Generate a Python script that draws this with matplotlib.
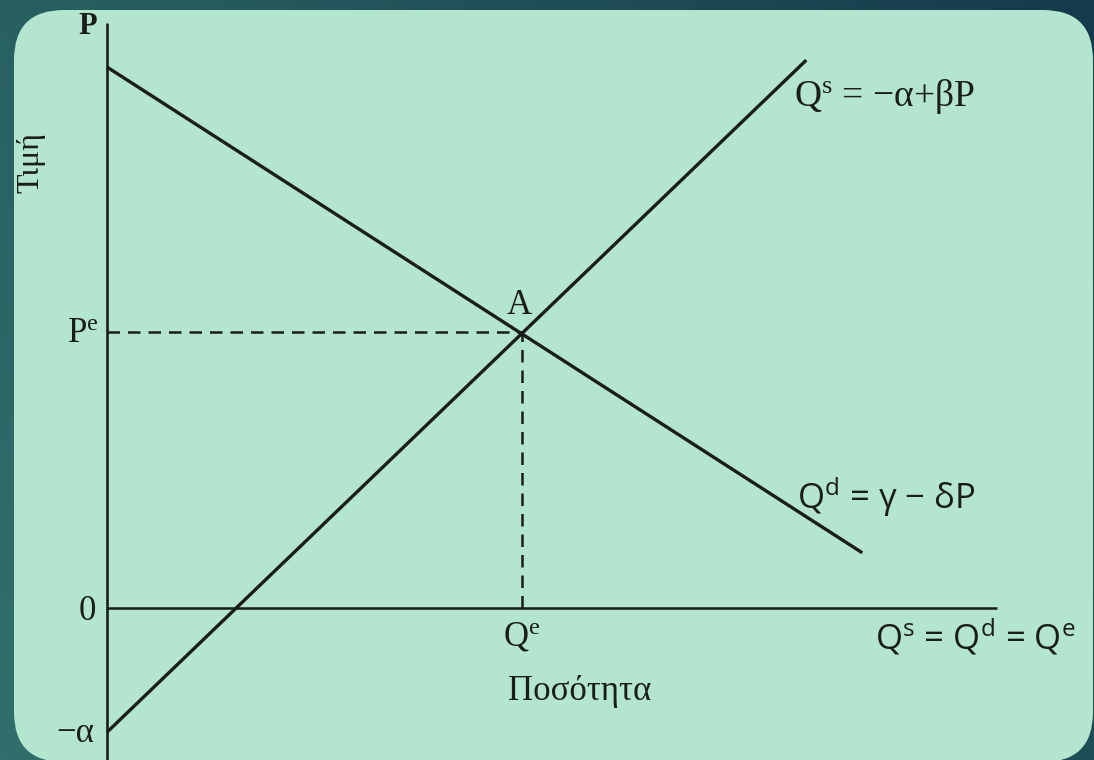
import numpy as np
import matplotlib
matplotlib.use('Agg')
from matplotlib import pyplot as plt
from matplotlib.patches import FancyBboxPatch
from matplotlib.colors import LinearSegmentedColormap

plt.rcParams['font.family'] = ['Liberation Serif', 'DejaVu Serif']

W, H = 1094, 760
INK = '#1b1d1c'
PANEL = '#b4e5cf'
SANS = ['Open Sans', 'DejaVu Sans']

# equilibrium and curve end points (price P on the vertical axis, quantity Q across)
Q_E, P_E = 10, 10
demand_q = [0, 18.2]
demand_p = [19.6, 2.0]
supply_q = [0, 16.85]
supply_p = [-4.5, 19.85]

# axis extents
q_axis = [0, 21.45]
p_axis = [-5.8, 21.2]

# pixels per unit, origin position in the picture
SX, SY = 41.5, 27.6
OX, OY = 107, 608


def background(fig):
    bg = fig.add_axes([0, 0, 1, 1])
    bg.set_xlim(0, W)
    bg.set_ylim(H, 0)
    bg.axis('off')
    cmap = LinearSegmentedColormap.from_list('bg', ['#306f6b', '#24585d', '#163a4b'])
    xx, yy = np.meshgrid(np.linspace(0, 1, 200), np.linspace(0, 1, 140))
    grad = 0.75 * xx + 0.35 * (1 - yy)
    bg.imshow(grad, cmap=cmap, extent=(0, W, H, 0), aspect='auto', zorder=0)
    panel = FancyBboxPatch((14, 10), 1079, 752,
                           boxstyle='round,pad=0,rounding_size=50',
                           facecolor=PANEL, edgecolor='none', zorder=1)
    bg.add_patch(panel)


def main():
    fig = plt.figure(figsize=(W / 100, H / 100), dpi=100)
    background(fig)

    ax = fig.add_axes([0, 0, 1, 1])
    ax.patch.set_alpha(0)
    ax.axis('off')
    ax.set_xlim(-OX / SX, (W - OX) / SX)
    ax.set_ylim(-(H - OY) / SY, OY / SY)

    # axes
    ax.plot(q_axis, [0, 0], color=INK, lw=1.8, solid_capstyle='butt')
    ax.plot([0, 0], p_axis, color=INK, lw=1.9, solid_capstyle='butt')

    # curves
    ax.plot(demand_q, demand_p, color=INK, lw=2.4, solid_capstyle='butt')
    ax.plot(supply_q, supply_p, color=INK, lw=2.4, solid_capstyle='butt')

    # equilibrium guides
    ax.plot([0, Q_E], [P_E, P_E], color=INK, lw=1.8, dashes=(5, 3.2))
    ax.plot([Q_E, Q_E], [0, P_E], color=INK, lw=1.8, dashes=(5, 3.2))

    def px(x, y):
        return (x - OX) / SX, (OY - y) / SY

    serif = dict(color=INK, fontsize=25)
    ax.text(*px(88, 26), 'P', ha='center', va='center', fontweight='bold',
            color=INK, fontsize=22)
    ax.text(*px(99, 333), r'$\mathregular{P^e}$', ha='right', va='center', **serif)
    ax.text(*px(96, 611), '0', ha='right', va='center', **serif)
    ax.text(*px(94, 733), '−α', ha='right', va='center', **serif)
    ax.text(*px(519, 305), 'A', ha='center', va='center', **serif)
    ax.text(*px(522, 637), r'$\mathregular{Q^e}$', ha='center', va='center', **serif)
    ax.text(*px(580, 692), 'Ποσότητα', ha='center', va='center', **serif)
    ax.text(*px(31, 163), 'Τιμή', ha='center', va='center', rotation=90,
            color=INK, fontsize=23)
    ax.text(*px(794, 97), r'$\mathregular{Q^s}$ = −α+βP', ha='left', va='center',
            color=INK, fontsize=27)

    sans = dict(color=INK, fontsize=25, family=SANS)
    ax.text(*px(797, 497), r'$\mathregular{Q^d}$ = γ − δP', ha='left', va='center', **sans)
    ax.text(*px(875, 637), r'$\mathregular{Q^s}$ = $\mathregular{Q^d}$ = $\mathregular{Q^e}$',
            ha='left', va='center', **sans)

    fig.savefig('out.png', dpi=100)


if __name__ == '__main__':
    main()
